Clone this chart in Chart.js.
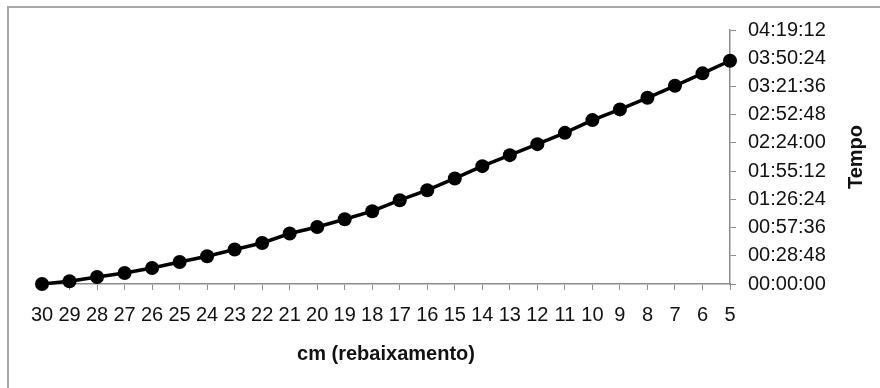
<!DOCTYPE html>
<html>
<head>
<meta charset="utf-8">
<script src="https://cdn.jsdelivr.net/npm/chart.js@4/dist/chart.umd.min.js"></script>
<style>
  html, body { margin: 0; padding: 0; background: #fff; }
  #wrap { position: relative; width: 880px; height: 388px; overflow: hidden; }
  #frame {
    position: absolute; left: 7px; top: 6px; width: 900px; height: 400px;
    border-left: 2px solid #a8a8a8; border-top: 2px solid #a8a8a8;
    pointer-events: none;
  }
  canvas { position: absolute; left: 0; top: 0; }
</style>
</head>
<body>
<div id="wrap">
  <canvas id="chart" width="880" height="388"></canvas>
  <div id="frame"></div>
</div>
<script>
// Rebaixamento (cm) e tempo decorrido
const categories = ['30','29','28','27','26','25','24','23','22','21','20','19','18','17','16','15','14','13','12','11','10','9','8','7','6','5'];
const tempos = ['00:00:00','00:02:45','00:07:09','00:11:14','00:16:21','00:22:29','00:28:18','00:35:09','00:41:53','00:51:30','00:58:14','01:06:06','01:14:17','01:25:31','01:35:44','01:47:41','02:00:15','02:11:29','02:22:44','02:34:16','02:47:15','02:58:11','03:10:02','03:22:17','03:34:58','03:47:50'];
const yMin = '00:00:00';
const yMax = '04:19:12';
const yStep = '00:28:48';
const xTitle = 'cm (rebaixamento)';
const yTitle = 'Tempo';

function toSeconds(s) {
  const [h, m, sec] = s.split(':').map(Number);
  return h * 3600 + m * 60 + sec;
}
function toClock(v) {
  const t = Math.round(v);
  const h = Math.floor(t / 3600), m = Math.floor((t % 3600) / 60), s = t % 60;
  return [h, m, s].map(n => String(n).padStart(2, '0')).join(':');
}

const FONT = '"Liberation Sans", Arial, Helvetica, sans-serif';
const TXT = '#111';
const AXIS = '#8c8c8c';

// Vertical title on the right, read bottom-to-top
const rightTitle = {
  id: 'rightTitle',
  afterDraw(chart) {
    const { ctx, chartArea } = chart;
    ctx.save();
    ctx.font = 'bold 20px ' + FONT;
    ctx.fillStyle = TXT;
    ctx.textAlign = 'center';
    ctx.textBaseline = 'middle';
    ctx.translate(856, (chartArea.top + chartArea.bottom) / 2);
    ctx.rotate(-Math.PI / 2);
    ctx.fillText(yTitle, 0, 0);
    ctx.restore();
  }
};

new Chart(document.getElementById('chart'), {
  type: 'line',
  data: {
    labels: categories,
    datasets: [{
      data: tempos.map(toSeconds),
      borderColor: '#000',
      backgroundColor: '#000',
      borderWidth: 3.5,
      pointRadius: 7,
      pointHoverRadius: 7,
      pointBackgroundColor: '#000',
      pointBorderColor: '#000',
      pointBorderWidth: 0,
      tension: 0,
      fill: false,
      clip: false
    }]
  },
  options: {
    responsive: false,
    animation: false,
    events: [],
    layout: { padding: { left: 42, top: 30, right: 0, bottom: 0 } },
    plugins: { legend: { display: false }, tooltip: { enabled: false } },
    scales: {
      x: {
        type: 'category',
        offset: false,
        afterFit(scale) { scale.height = 104; },
        grid: { display: true, drawOnChartArea: false, drawTicks: true, tickLength: 6, color: AXIS, lineWidth: 1 },
        border: { display: true, color: AXIS, width: 1.5 },
        ticks: { autoSkip: false, maxRotation: 0, minRotation: 0, padding: 13, color: TXT, font: { family: FONT, size: 20 } },
        title: { display: true, text: xTitle, color: TXT, font: { family: FONT, size: 20, weight: 'bold' }, padding: { top: 0, bottom: 22 } }
      },
      y: {
        position: 'right',
        min: toSeconds(yMin),
        max: toSeconds(yMax),
        afterFit(scale) { scale.width = 150; },
        afterBuildTicks(scale) {
          const out = [];
          for (let v = toSeconds(yMin); v <= toSeconds(yMax) + 0.5; v += toSeconds(yStep)) out.push({ value: v });
          scale.ticks = out;
        },
        grid: { display: true, drawOnChartArea: false, drawTicks: true, tickLength: 6, color: AXIS, lineWidth: 1 },
        border: { display: true, color: AXIS, width: 1.5 },
        ticks: { padding: 12, color: TXT, font: { family: FONT, size: 20 }, callback: v => toClock(v) },
        title: { display: false }
      }
    }
  },
  plugins: [rightTitle]
});
</script>
</body>
</html>
